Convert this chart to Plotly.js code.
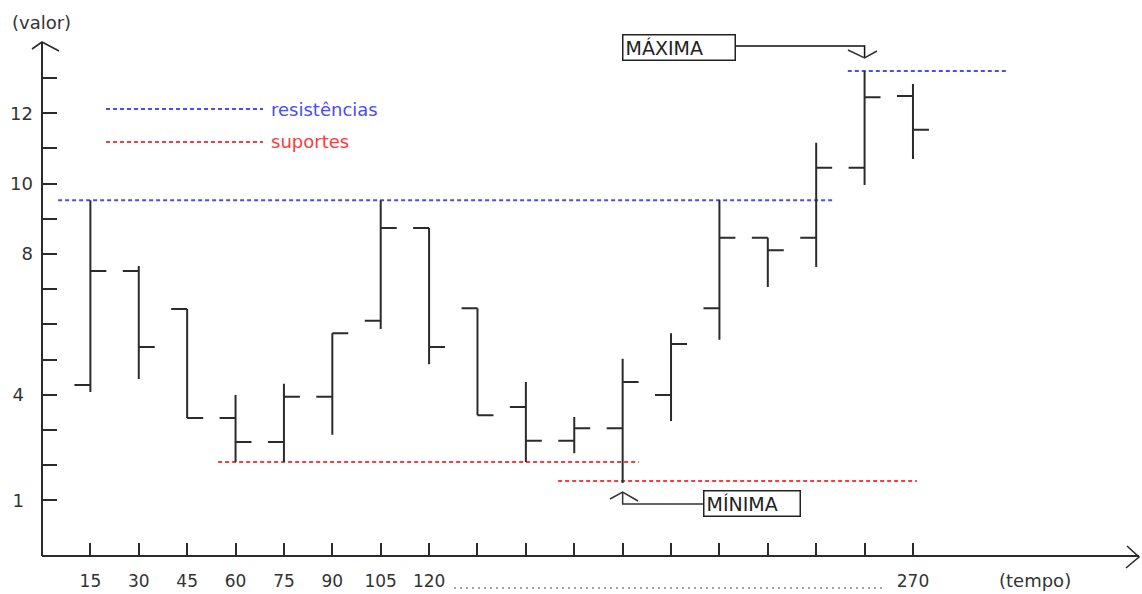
<!DOCTYPE html>
<html>
<head>
<meta charset="utf-8">
<script src="https://cdn.plot.ly/plotly-3.0.1.min.js"></script>
<style>html,body{margin:0;padding:0;background:#fff;}#chart{width:1142px;height:594px;}</style>
</head>
<body>
<div id="chart"></div>
<script>
// ---- data ----
const tempo  = [15, 30, 45, 60, 75, 90, 105, 120, 135, 150, 165, 180, 195, 210, 225, 240, 255, 270];
const abertura = [4.28, 7.52, 6.44, 3.34, 2.66, 3.94, 6.10, 8.74, 6.46, 3.65, 2.69, 3.05, 3.99, 6.46, 8.46, 8.46, 10.45, 12.49];
const maxima   = [9.53, 7.66, 6.44, 3.99, 4.31, 5.75, 9.53, 8.74, 6.46, 4.36, 3.37, 5.02, 5.75, 9.53, 8.46, 11.16, 13.20, 12.83];
const minima   = [4.08, 4.45, 3.34, 2.09, 2.09, 2.86, 5.87, 4.87, 3.42, 2.09, 2.34, 1.49, 3.25, 5.56, 7.06, 7.63, 9.96, 10.70];
const fecho    = [7.52, 5.36, 3.34, 2.66, 3.94, 5.75, 8.74, 5.36, 3.42, 2.69, 3.05, 4.36, 5.44, 8.46, 8.11, 10.45, 12.46, 11.53];

const yTickVals  = [1, 2, 3, 4, 5, 6, 7, 8, 9, 10, 11, 12, 13];
const yTickText  = ['1\u2002', '', '', '4\u2002', '', '', '', '8', '', '10', '', '12', ''];
const xTickText  = ['15', '30', '45', '60', '75', '90', '105', '120', '', '', '', '', '', '', '', '', '', '270'];

// resistance / support levels: [level, from, to]
const resistLevels = [9.53, 13.20];
const resistFrom   = [5, 249.8];
const resistTo     = [245, 299];
const supportLevels = [2.09, 1.55];
const supportFrom   = [54.6, 160];
const supportTo     = [185, 271.2];

// ---- layout helpers ----
const W = 1142, H = 594, ML = 42, MB = 38;
const PW = W - ML, PH = H - MB;
const XR = [0, 341], YR = [-0.584, 15.221];
const px = p => (p - ML) / PW;          // pixel x -> paper
const py = p => (PH - p) / PH;          // pixel y -> paper
const dx = p => XR[0] + (p - ML) / PW * (XR[1] - XR[0]);   // pixel x -> data
const dy = p => YR[1] - p / PH * (YR[1] - YR[0]);           // pixel y -> data

const INK = '#2b2b2b';
const FONT = 'DejaVu Sans, Verdana, sans-serif';
const BLUE = '#4a4aff', RED = '#ff3a3a';

const shapes = [];
// axis lines + arrows
shapes.push({type: 'line', xref: 'paper', yref: 'paper', x0: 0, x1: 0, y0: 0, y1: py(42), line: {color: INK, width: 2}});
shapes.push({type: 'path', xref: 'paper', yref: 'paper', path: `M${px(32)},${py(49)} L${px(42)},${py(42)} L${px(59)},${py(51)}`, line: {color: INK, width: 1.6}});
shapes.push({type: 'line', xref: 'paper', yref: 'paper', x0: 0, x1: px(1139), y0: 0, y1: 0, line: {color: INK, width: 2}});
shapes.push({type: 'path', xref: 'paper', yref: 'paper', path: `M${px(1127)},${py(546)} L${px(1139)},${py(557)} L${px(1126)},${py(568)}`, line: {color: INK, width: 1.6}});

// resistance / support lines
resistLevels.forEach((v, i) => shapes.push({type: 'line', xref: 'x', yref: 'y', x0: resistFrom[i], x1: resistTo[i], y0: v, y1: v, line: {color: BLUE, width: 2, dash: '4px,3px'}, layer: 'below'}));
supportLevels.forEach((v, i) => shapes.push({type: 'line', xref: 'x', yref: 'y', x0: supportFrom[i], x1: supportTo[i], y0: v, y1: v, line: {color: RED, width: 2, dash: '4px,3px'}, layer: 'below'}));

// key samples
shapes.push({type: 'line', xref: 'x', yref: 'y', x0: dx(106), x1: dx(263), y0: dy(109), y1: dy(109), line: {color: BLUE, width: 2, dash: '4px,3px'}});
shapes.push({type: 'line', xref: 'x', yref: 'y', x0: dx(106), x1: dx(263), y0: dy(142), y1: dy(142), line: {color: RED, width: 2, dash: '4px,3px'}});

// leader dots in x labels
shapes.push({type: 'line', xref: 'x', yref: 'paper', x0: dx(454), x1: dx(885), y0: py(588), y1: py(588), line: {color: '#888', width: 1.5, dash: '2px,4px'}});

// MÁXIMA callout connector (points at highest bar)
const iMax = maxima.indexOf(Math.max(...maxima));
const iMin = minima.indexOf(Math.min(...minima));
const xMax = tempo[iMax], xMin = tempo[iMin];
shapes.push({type: 'path', xref: 'x', yref: 'y', path: `M${dx(736)},${dy(46)} L${xMax},${dy(46)} L${xMax},${dy(58)}`, line: {color: '#111', width: 1.5}});
shapes.push({type: 'path', xref: 'x', yref: 'y', path: `M${dx(848)},${dy(50)} L${xMax},${dy(58)} L${dx(877)},${dy(51)}`, line: {color: '#333', width: 1.5}});
// MÍNIMA connector
shapes.push({type: 'path', xref: 'x', yref: 'y', path: `M${dx(703)},${dy(504)} L${xMin},${dy(504)} L${xMin},${dy(492)}`, line: {color: '#333', width: 1.5}});
shapes.push({type: 'path', xref: 'x', yref: 'y', path: `M${dx(610)},${dy(499)} L${xMin},${dy(492)} L${dx(638)},${dy(501)}`, line: {color: '#333', width: 1.5}});

const annotations = [
  {text: '(valor)', xref: 'paper', yref: 'paper', x: px(41), y: py(23), xanchor: 'center', yanchor: 'middle', showarrow: false, font: {family: FONT, size: 18, color: '#333'}},
  {text: '(tempo)', xref: 'paper', yref: 'paper', x: px(1035), y: py(580), xanchor: 'center', yanchor: 'middle', showarrow: false, font: {family: FONT, size: 18, color: '#333'}},
  {text: 'resistências', xref: 'x', yref: 'y', x: dx(269), y: dy(109), xanchor: 'left', yanchor: 'middle', showarrow: false, font: {family: FONT, size: 18, color: BLUE}},
  {text: 'suportes', xref: 'x', yref: 'y', x: dx(269), y: dy(141), xanchor: 'left', yanchor: 'middle', showarrow: false, font: {family: FONT, size: 18, color: RED}},
  {text: 'MÁXIMA', xref: 'x', yref: 'y', x: dx(622), y: dy(47), xanchor: 'left', yanchor: 'middle', showarrow: false, width: 107, height: 20, align: 'left', bordercolor: '#222', borderwidth: 1.5, borderpad: 2, bgcolor: '#fff', font: {family: FONT, size: 19, color: '#222'}},
  {text: 'MÍNIMA', xref: 'x', yref: 'y', x: dx(703), y: dy(503.5), xanchor: 'left', yanchor: 'middle', showarrow: false, width: 91, height: 20, align: 'left', bordercolor: '#222', borderwidth: 1.5, borderpad: 2, bgcolor: '#fff', font: {family: FONT, size: 19, color: '#222'}}
];

const trace = {
  type: 'ohlc',
  x: tempo, open: abertura, high: maxima, low: minima, close: fecho,
  increasing: {line: {color: INK, width: 2}},
  decreasing: {line: {color: INK, width: 2}},
  tickwidth: 0.33,
  hoverinfo: 'skip',
  showlegend: false
};

const layout = {
  width: W, height: H,
  margin: {l: ML, r: 0, t: 0, b: MB, pad: 0},
  paper_bgcolor: '#fff', plot_bgcolor: '#fff',
  showlegend: false,
  xaxis: {
    range: XR, showgrid: false, zeroline: false, showline: false,
    tickmode: 'array', tickvals: tempo, ticktext: xTickText,
    ticks: 'inside', ticklen: 13, tickwidth: 2, tickcolor: INK,
    ticklabelstandoff: 13,
    tickfont: {family: FONT, size: 17, color: '#333'},
    rangeslider: {visible: false}, fixedrange: true
  },
  yaxis: {
    range: YR, showgrid: false, zeroline: false, showline: false,
    tickmode: 'array', tickvals: yTickVals, ticktext: yTickText,
    ticks: 'inside', ticklen: 15, tickwidth: 2, tickcolor: INK,
    ticklabelstandoff: 8,
    tickfont: {family: FONT, size: 18, color: '#333'},
    fixedrange: true
  },
  shapes: shapes,
  annotations: annotations
};

Plotly.newPlot('chart', [trace], layout, {staticPlot: true, displayModeBar: false});
</script>
</body>
</html>
